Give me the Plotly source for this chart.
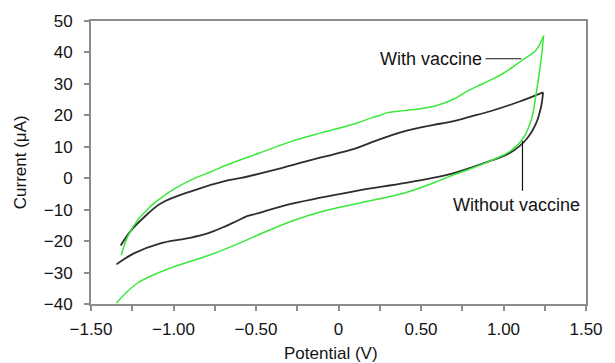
import plotly.graph_objects as go

# Cyclic voltammograms: potential (V) vs current (µA), each split into its two sweeps
# With vaccine: rising sweep (left -> vertex), then return sweep (vertex -> left)
with_rise_v = [-1.346, -1.22, -1.02, -0.784, -0.589, -0.45, -0.281, -0.10, 0.109, 0.405, 0.60, 0.683,
               0.80, 0.92, 1.038, 1.115, 1.169, 1.198, 1.228, 1.243]
with_rise_i = [-39.7, -33.4, -28.6, -24.5, -20.4, -17.2, -13.6, -10.6, -8.1, -4.6, -1.0, 0.8,
               3.0, 5.5, 8.5, 12.4, 18.7, 26.9, 37.7, 45.3]
with_return_v = [1.243, 1.198, 1.115, 0.997, 0.92, 0.843, 0.77, 0.70, 0.60, 0.506, 0.40, 0.285, 0.255,
                 0.20, 0.109, -0.10, -0.281, -0.48, -0.678, -0.766, -0.88, -0.985, -1.05, -1.12,
                 -1.17, -1.22, -1.28, -1.317]
with_return_i = [45.3, 40.8, 37.6, 33.3, 31.2, 29.3, 27.4, 25.2, 23.2, 22.2, 21.5, 20.7, 20.0,
                 19.2, 17.5, 14.5, 11.8, 8.0, 4.2, 2.2, -0.2, -3.1, -5.3, -8.1,
                 -10.6, -13.5, -18.8, -24.5]

# Without vaccine
without_rise_v = [-1.32, -1.257, -1.18, -1.08, -0.885, -0.678, -0.589, -0.4, -0.186, 0.109, 0.22,
                  0.328, 0.42, 0.50, 0.58, 0.683, 0.80, 0.92, 1.098, 1.240]
without_rise_i = [-21.4, -16.6, -12.5, -8.1, -4.0, -0.8, 0.1, 2.5, 5.5, 9.6, 11.8,
                  13.8, 15.2, 16.2, 17.0, 18.0, 19.6, 21.3, 24.4, 27.3]
without_return_v = [1.240, 1.228, 1.198, 1.139, 1.038, 0.92, 0.80, 0.683, 0.405, 0.109, -0.281,
                    -0.5, -0.55, -0.62, -0.70, -0.76, -0.825, -0.926, -1.08, -1.24, -1.346]
without_return_i = [27.3, 22.8, 17.5, 12.4, 8.0, 5.5, 3.3, 1.4, -1.5, -4.0, -8.1,
                    -11.3, -12.0, -13.7, -15.6, -16.9, -18.0, -19.2, -20.7, -23.9, -27.4]

x_ticks = [-1.5, -1.25, -1.0, -0.75, -0.5, -0.25, 0, 0.25, 0.5, 0.75, 1.0, 1.25, 1.5]
x_labels = ["\u22121.50", "", "\u22121.00", "", "\u22120.50", "", "0", "", "0.50", "", "1.00", "", "1.50"]
y_ticks = [-40, -30, -20, -10, 0, 10, 20, 30, 40, 50]
y_labels = ["\u221240", "\u221230", "\u221220", "\u221210", "0", "10", "20", "30", "40", "50"]

FONT = "Liberation Sans, Arial, sans-serif"
AXIS_GREY = "#8c8c8c"
INK = "#141414"

black_line = dict(color="#2e2e2e", width=1.8, shape="spline", smoothing=1.0)
green_line = dict(color="#3ae83a", width=1.5, shape="spline", smoothing=1.0)

fig = go.Figure()
for xs, ys in [(without_rise_v, without_rise_i), (without_return_v, without_return_i)]:
    fig.add_trace(go.Scatter(x=xs, y=ys, mode="lines", line=black_line,
                             name="Without vaccine", showlegend=False))
for xs, ys in [(with_rise_v, with_rise_i), (with_return_v, with_return_i)]:
    fig.add_trace(go.Scatter(x=xs, y=ys, mode="lines", line=green_line,
                             name="With vaccine", showlegend=False))

axis_common = dict(showline=True, linecolor=AXIS_GREY, linewidth=2, mirror=True,
                   ticks="outside", tickcolor=AXIS_GREY, ticklen=5, tickwidth=1.5,
                   showgrid=False, zeroline=False,
                   tickfont=dict(family=FONT, size=17, color=INK))

fig.update_xaxes(range=[-1.5, 1.5], tickmode="array", tickvals=x_ticks, ticktext=x_labels,
                 ticklabelstandoff=4, **axis_common)
fig.update_yaxes(range=[-40, 50], tickmode="array", tickvals=y_ticks, ticktext=y_labels,
                 ticklabelstandoff=8, **axis_common)

# Label leaders
fig.add_shape(type="line", x0=0.891, y0=38.0, x1=1.109, y1=38.0,
              line=dict(color=INK, width=1.2))
fig.add_shape(type="line", x0=1.115, y0=11.8, x1=1.115, y1=-4.0,
              line=dict(color=INK, width=1.2))

fig.add_annotation(x=0.879, y=38.0, text="With vaccine", showarrow=False,
                   xanchor="right", yanchor="middle",
                   font=dict(family=FONT, size=18, color=INK))
fig.add_annotation(x=1.08, y=-8.6, text="Without vaccine", showarrow=False,
                   xanchor="center", yanchor="middle",
                   font=dict(family=FONT, size=18, color=INK))

# Axis titles
fig.add_annotation(xref="paper", yref="paper", x=0.485, y=-0.175, text="Potential (V)",
                   showarrow=False, xanchor="center", yanchor="middle",
                   font=dict(family=FONT, size=17, color=INK))
fig.add_annotation(xref="paper", yref="paper", x=-0.142, y=0.5, text="Current (\u03bcA)",
                   showarrow=False, xanchor="center", yanchor="middle", textangle=-90,
                   font=dict(family=FONT, size=17, color=INK))

fig.update_layout(width=615, height=363, margin=dict(l=91, r=17, t=19, b=59),
                  paper_bgcolor="white", plot_bgcolor="white",
                  font=dict(family=FONT, size=17, color=INK))

fig.write_html("out.html")
